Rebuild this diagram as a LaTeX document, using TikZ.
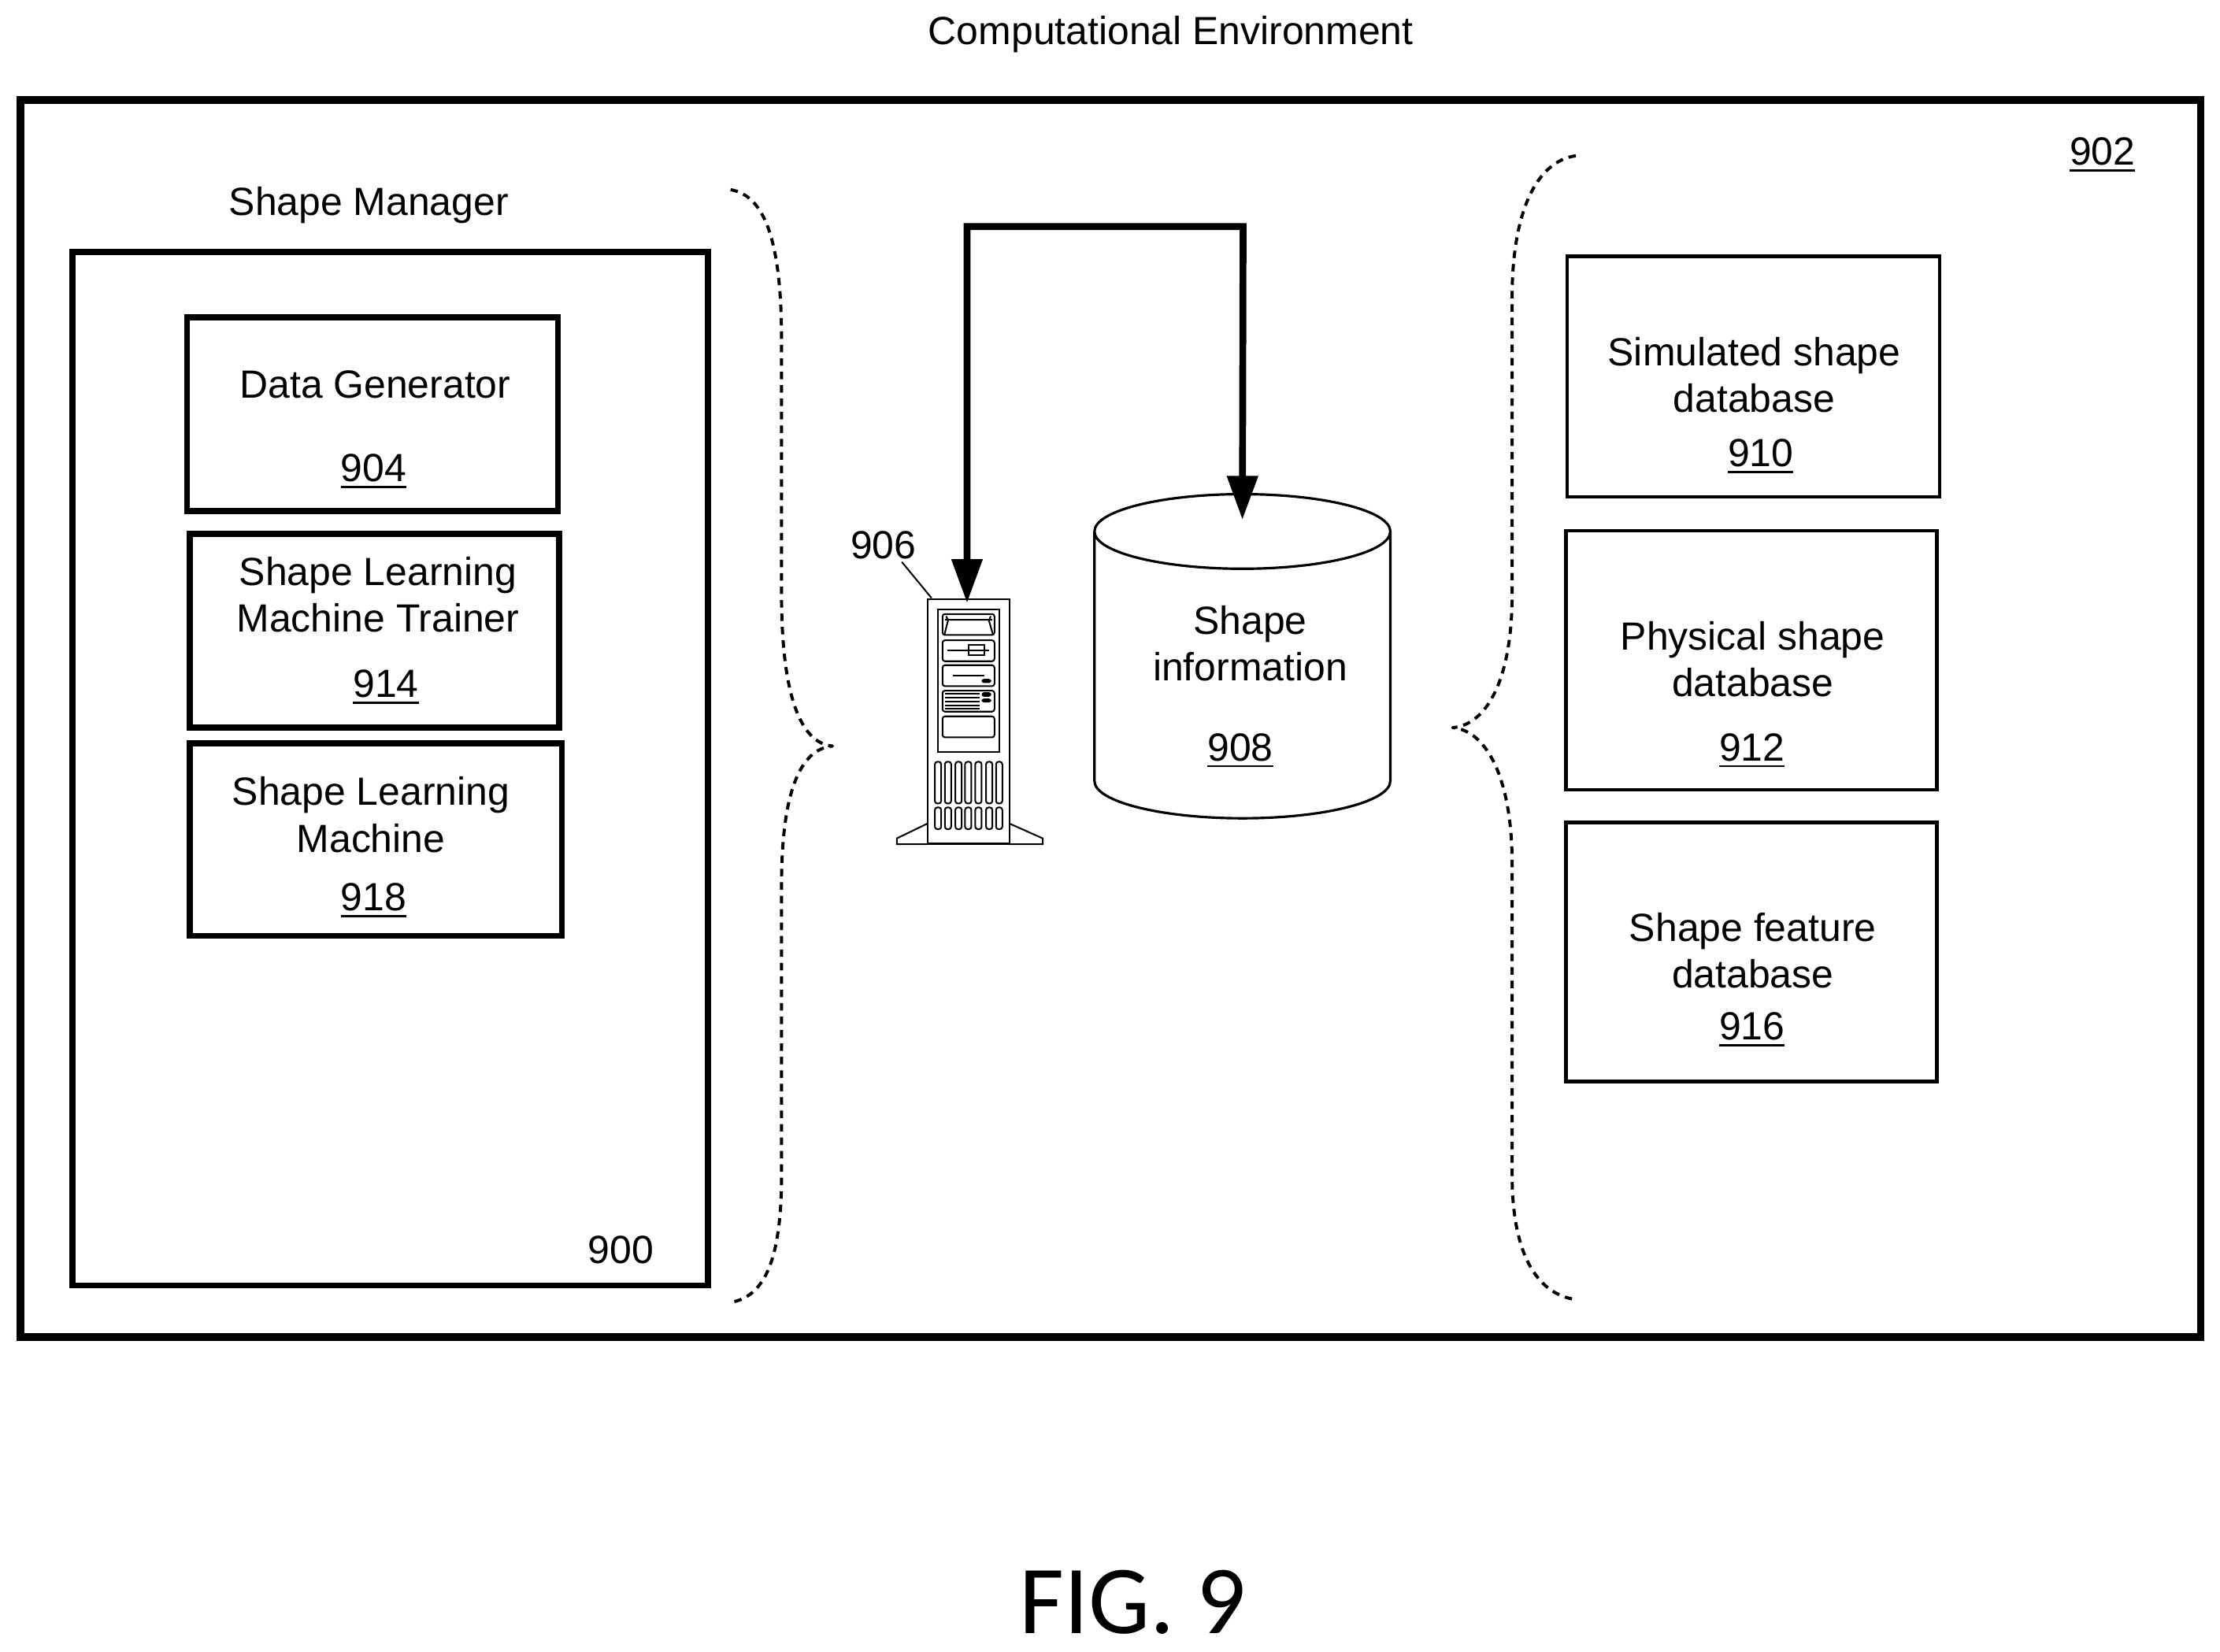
\documentclass[tikz,border=0pt]{standalone}
\usepackage{fontspec}
\setmainfont{Liberation Sans}
\newfontfamily\figfont{Carlito}
\usetikzlibrary{arrows.meta,shapes.geometric}
\newcommand{\ulnum}[1]{\leavevmode\vtop{\hbox{#1}\kern1.6pt\hrule height 0.9pt}}
\tikzset{
    heavybox/.style={draw, line width=2.4pt, minimum width=#1},
    thinbox/.style={draw, line width=1.35pt, minimum width=#1},
    lbl/.style={font=\fontsize{15.8}{18.7}\selectfont, align=center, inner sep=0pt},
    brace/.style={line width=1.25pt, line join=round, dash pattern=on 3pt off 2.4pt},
    bus/.style={line width=2.75pt, {Triangle[width=0.42cm,length=0.62cm]}-{Triangle[width=0.42cm,length=0.62cm]}},
    part/.style={line width=0.65pt}
}

\begin{document}
\begin{tikzpicture}[x=0.02cm, y=-0.02cm]
        \useasboundingbox (0,0) rectangle (1568,1166.4);

        % Outer frames
        \node[draw, line width=3.1pt, minimum width=30.8cm, minimum height=17.48cm] (environment) at (784.5,507.5) {};
        \node[heavybox=8.98cm, minimum height=14.6cm] (manager) at (275.5,543) {};
        \node[lbl] (environmentlabel) at (827,24.5) {Computational Environment};
        \node[lbl] (managerlabel) at (260.5,145) {Shape Manager};
        \node[lbl] (num900) at (438.5,883) {900};
        \node[lbl] (num902) at (1485,109) {\ulnum{902}};

        % Left column: manager parts
        \foreach \name/\x/\y/\w/\h in {datagen/263/292.5/5.24/2.74, trainer/264.5/445.5/5.22/2.74, machine/265.5/593/5.26/2.72} {
            \node[heavybox=\w cm, minimum height=\h cm] (\name) at (\x,\y) {};
        }
        \foreach \name/\x/\y/\label in {datagentext/265/271.5/Data Generator, trainertext/267/420/Shape Learning\\Machine Trainer, machinetext/262/575.5/Shape Learning\\Machine} {
            \node[lbl] (\name) at (\x,\y) {\label};
        }
        \foreach \name/\x/\y/\label in {num904/264/333/904, num914/272.5/485/914, num918/264/636/918} {
            \node[lbl] (\name) at (\x,\y) {\ulnum{\label}};
        }

        % Right column: databases
        \foreach \name/\x/\y/\w/\h in {simulated/1238.5/266/5.26/3.4, physical/1237/466.5/5.24/3.66, feature/1237/672.5/5.24/3.66} {
            \node[thinbox=\w cm, minimum height=\h cm] (\name) at (\x,\y) {};
        }
        \foreach \name/\x/\y/\label in {simulatedtext/1239/265/Simulated shape\\database, physicaltext/1238/465.5/Physical shape\\database, featuretext/1238/671.5/Shape feature\\database} {
            \node[lbl] (\name) at (\x,\y) {\label};
        }
        \foreach \name/\x/\y/\label in {num910/1243.5/322/910, num912/1237.5/530/912, num916/1237.5/727/916} {
            \node[lbl] (\name) at (\x,\y) {\ulnum{\label}};
        }

        % Braces
        \draw[brace] (516,134) .. controls (540,138) and (552,170) .. (552,240) -- (552,420)
            .. controls (552,490) and (565,525) .. (588,527)
            .. controls (565,529) and (552,560) .. (552,625) -- (552,830)
            .. controls (552,890) and (540,916) .. (516,920);
        \draw[brace] (1113,110) .. controls (1085,114) and (1068,150) .. (1068,210) -- (1068,420)
            .. controls (1068,480) and (1050,512) .. (1026,514)
            .. controls (1050,516) and (1068,550) .. (1068,610) -- (1068,830)
            .. controls (1068,885) and (1085,914) .. (1113,918);

        % Storage
        \node[draw, line width=1pt, shape=cylinder, shape border rotate=90, aspect=4.5,
              minimum width=4.18cm, minimum height=4.58cm] (storage) at (877.5,481.5) {};
        \node[lbl] (storagetext) at (883,454.5) {Shape\\information};
        \node[lbl] (num908) at (876,530) {\ulnum{908}};

        % Server
        \node[draw, part, minimum width=1.16cm, minimum height=3.46cm] (server) at (684,509.5) {};
        \node[lbl] (num906) at (624,385) {906};
        \draw[part] ([xshift=-6pt,yshift=-1pt]num906.south east) -- ([xshift=2pt]server.north west);
        \begin{scope}[shift={(589.5,367)}, x=0.00371cm, y=-0.00371cm, part]
            \draw (393,342) rectangle (627,887);
            \foreach \y in {360,460,555,652,750}
                \draw[rounded corners=1pt] (411,\y) rectangle (609,\y+80);
            % Bay details
            \draw (420,382) -- (600,382) (425,368) -- (432,385) -- (418,440) (595,368) -- (588,385) -- (604,440);
            \draw (430,498) -- (590,498) (510,477) rectangle (570,518);
            \draw (450,595) -- (570,595);
            \fill[rounded corners=1pt] (560,607) rectangle (597,623);
            \foreach \y in {665,680,695,708,722}
                \draw (420,\y) -- (552,\y);
            \fill[rounded corners=1pt] (560,658) rectangle (597,675);
            \fill[rounded corners=1pt] (560,682) rectangle (597,697);
            % Vents
            \foreach \x in {382,420,460,497,536,577,615} {
                \draw[rounded corners=1pt] (\x,923) rectangle (\x+24,1082);
                \draw[rounded corners=1pt] (\x,1097) rectangle (\x+24,1180);
            }
            % Feet
            \draw (355,1158) -- (237,1215) -- (237,1237) -- (355,1237);
            \draw (665,1158) -- (793,1215) -- (793,1237) -- (665,1237);
        \end{scope}

        % Link between server and storage
        \draw[bus] ([xshift=-0.02cm,yshift=-0.07cm]server.north) |- (878,160) -- ([yshift=-0.38cm]storage.north);

        % Figure caption
        \node[font=\figfont\fontsize{39.2}{44}\selectfont, inner sep=0pt] (caption) at (800,1132) {FIG. 9};
    \end{tikzpicture}
\end{document}
